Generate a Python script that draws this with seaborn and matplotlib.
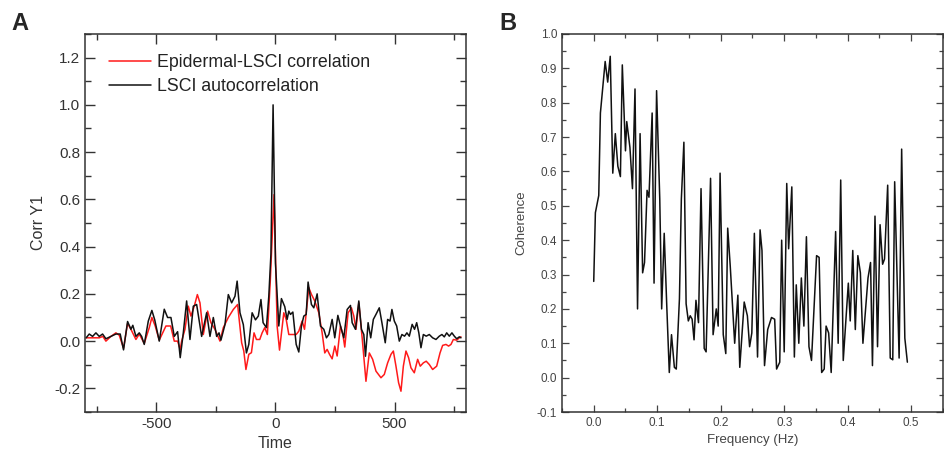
import numpy as np
import pandas as pd
import matplotlib
matplotlib.use('Agg')
import matplotlib.pyplot as plt
from matplotlib.ticker import MultipleLocator
import seaborn as sns

# Panel A: cross-correlation (red) and autocorrelation (black)
time_red = [-795, -780, -760, -740, -725, -712, -691, -670, -656, -638, -621, -607, -586, -572,
            -551, -530, -519, -505, -488, -460, -440, -425, -411, -400, -394, -380, -366, -355,
            -341, -328, -317, -303, -285, -271, -254, -233, -219, -198, -177, -159, -142, -133,
            -124, -112, -101, -90, -80, -66, -56, -45, -34, -22, -6, 7, 17, 35, 45, 56, 73, 87,
            98, 112, 122, 140, 151, 165, 182, 196, 207, 217, 227, 238, 249, 259, 273, 283, 291,
            305, 319, 329, 338, 350, 364, 380, 394, 408, 422, 443, 457, 471, 485, 495, 506, 517,
            527, 537, 548, 559, 569, 583, 597, 608, 621, 633, 646, 660, 677, 691, 702, 716, 727,
            737, 747, 761, 772, 779]
corr_red = [0.014, 0.014, 0.014, 0.014, 0.02, 0.0, 0.02, 0.035, 0.025, -0.03, 0.075, 0.05, 0.007,
            0.03, -0.01, 0.057, 0.10, 0.064, 0.004, 0.064, 0.064, 0.0, 0.0, -0.035, 0.0, 0.05,
            0.148, 0.106, 0.148, 0.197, 0.162, 0.028, 0.127, 0.078, 0.05, 0.0, 0.057, 0.10, 0.134,
            0.155, -0.007, -0.042, -0.12, -0.056, -0.049, 0.035, 0.007, 0.007, 0.035, 0.057, 0.028,
            0.25, 0.62, 0.064, -0.038, 0.12, 0.092, 0.028, 0.028, 0.028, 0.042, 0.085, 0.05, 0.226,
            0.198, 0.17, 0.12, 0.035, -0.05, -0.035, -0.056, -0.075, -0.021, -0.063, 0.064, 0.028,
            -0.025, 0.12, 0.141, 0.106, 0.05, 0.162, 0.014, -0.17, -0.05, -0.077, -0.127, -0.155,
            -0.141, -0.092, -0.056, -0.042, -0.106, -0.176, -0.212, -0.106, -0.042, -0.07, -0.113,
            -0.134, -0.077, -0.106, -0.092, -0.085, -0.099, -0.12, -0.106, -0.05, -0.018, -0.014,
            -0.021, -0.014, 0.007, 0.004, 0.014, 0.018]

time_black = [-795, -782, -768, -754, -740, -726, -712, -691, -670, -652, -638, -621, -607, -599,
              -586, -572, -562, -551, -534, -519, -507, -488, -467, -453, -439, -425, -411, -400,
              -387, -373, -359, -345, -331, -310, -289, -275, -261, -247, -237, -229, -212, -198,
              -184, -170, -161, -149, -135, -122, -112, -98, -84, -72, -61, -52, -38, -28, -19,
              -10, 0, 14, 25, 39, 49, 56, 63, 73, 87, 98, 109, 119, 129, 137, 151, 161, 175, 189,
              203, 214, 224, 238, 249, 262, 273, 287, 301, 315, 322, 336, 350, 361, 371, 378, 389,
              400, 411, 422, 436, 447, 461, 471, 481, 489, 499, 509, 520, 531, 542, 552, 562, 574,
              584, 593, 602, 611, 621, 633, 646, 660, 674, 688, 699, 709, 719, 730, 741, 751, 761,
              772, 779]
corr_black = [0.014, 0.03, 0.02, 0.035, 0.02, 0.03, 0.01, 0.02, 0.03, 0.03, -0.037, 0.083, 0.05,
              0.067, 0.02, 0.035, 0.02, -0.014, 0.085, 0.13, 0.09, 0.0, 0.135, 0.10, 0.10, 0.02,
              0.04, -0.07, 0.035, 0.17, 0.007, 0.148, 0.155, 0.02, 0.12, 0.02, 0.10, 0.02, 0.035,
              0.004, 0.07, 0.197, 0.162, 0.19, 0.254, 0.12, 0.07, -0.05, -0.014, 0.12, 0.09, 0.106,
              0.176, 0.078, 0.057, 0.19, 0.37, 1.0, 0.33, 0.064, 0.18, 0.146, 0.092, 0.127, 0.113,
              0.123, -0.014, -0.046, 0.064, 0.106, 0.113, 0.25, 0.155, 0.141, 0.20, 0.064, 0.05,
              0.014, 0.028, 0.092, 0.014, 0.109, 0.064, 0.014, 0.134, 0.151, 0.078, 0.05, 0.17,
              0.05, 0.028, -0.064, 0.078, 0.014, 0.092, 0.113, 0.141, 0.078, -0.007, 0.092, 0.085,
              0.134, 0.085, 0.064, 0.0, 0.028, 0.021, 0.035, 0.021, 0.071, 0.05, 0.078, 0.035,
              -0.028, 0.028, 0.021, 0.028, 0.014, 0.007, 0.021, 0.028, 0.018, 0.035, 0.021, 0.035,
              0.021, 0.01, 0.018, 0.014]

# Panel B: coherence spectrum
freq = [0.0, 0.0026, 0.0079, 0.0105, 0.018, 0.022, 0.026, 0.030, 0.034, 0.038, 0.042, 0.045,
        0.050, 0.052, 0.057, 0.061, 0.065, 0.069, 0.073, 0.077, 0.080, 0.084, 0.087, 0.092,
        0.095, 0.099, 0.104, 0.107, 0.111, 0.115, 0.119, 0.1225, 0.127, 0.130, 0.135, 0.138,
        0.142, 0.1455, 0.149, 0.152, 0.155, 0.158, 0.161, 0.165, 0.169, 0.174, 0.177, 0.184,
        0.188, 0.193, 0.196, 0.199, 0.204, 0.208, 0.211, 0.215, 0.222, 0.227, 0.230, 0.237,
        0.242, 0.2455, 0.249, 0.253, 0.258, 0.262, 0.265, 0.269, 0.274, 0.280, 0.285, 0.288,
        0.293, 0.296, 0.300, 0.304, 0.307, 0.312, 0.316, 0.319, 0.323, 0.327, 0.331, 0.335,
        0.339, 0.343, 0.351, 0.355, 0.359, 0.363, 0.366, 0.370, 0.374, 0.381, 0.385, 0.389,
        0.393, 0.401, 0.404, 0.408, 0.412, 0.416, 0.420, 0.424, 0.432, 0.436, 0.439, 0.443,
        0.447, 0.451, 0.455, 0.458, 0.463, 0.467, 0.471, 0.474, 0.481, 0.485, 0.490, 0.494]
coherence = [0.28, 0.48, 0.53, 0.77, 0.92, 0.86, 0.935, 0.595, 0.71, 0.615, 0.585, 0.91, 0.66,
             0.745, 0.67, 0.55, 0.84, 0.20, 0.71, 0.305, 0.335, 0.545, 0.525, 0.77, 0.275, 0.835,
             0.52, 0.20, 0.42, 0.21, 0.015, 0.125, 0.03, 0.025, 0.23, 0.52, 0.685, 0.215, 0.165,
             0.18, 0.17, 0.11, 0.225, 0.16, 0.55, 0.085, 0.075, 0.58, 0.125, 0.20, 0.15, 0.595,
             0.125, 0.07, 0.435, 0.325, 0.10, 0.24, 0.03, 0.22, 0.18, 0.09, 0.13, 0.42, 0.06,
             0.43, 0.37, 0.035, 0.14, 0.175, 0.17, 0.025, 0.045, 0.40, 0.075, 0.565, 0.375, 0.555,
             0.06, 0.27, 0.10, 0.29, 0.15, 0.41, 0.09, 0.05, 0.355, 0.35, 0.015, 0.025, 0.15, 0.13,
             0.015, 0.425, 0.10, 0.575, 0.05, 0.275, 0.165, 0.37, 0.14, 0.355, 0.305, 0.10, 0.29,
             0.335, 0.035, 0.47, 0.09, 0.445, 0.33, 0.345, 0.56, 0.057, 0.052, 0.57, 0.057, 0.665,
             0.115, 0.045]

sns.set_style('ticks')
plt.rcParams['font.family'] = ['Liberation Sans', 'DejaVu Sans']
plt.rcParams['axes.unicode_minus'] = False

fig = plt.figure(figsize=(9.45, 4.53), dpi=100)
ax1 = fig.add_axes([0.0899, 0.0905, 0.4032, 0.8345])
ax2 = fig.add_axes([0.5947, 0.0905, 0.4031, 0.8345])

sns.lineplot(x=time_red, y=corr_red, ax=ax1, color='#ff1a1a', linewidth=1.1,
             estimator=None, sort=False, label='Epidermal-LSCI correlation')
sns.lineplot(x=time_black, y=corr_black, ax=ax1, color='#111111', linewidth=1.1,
             estimator=None, sort=False, label='LSCI autocorrelation')
ax1.set_xlim(-800, 800)
ax1.set_ylim(-0.3, 1.3)
ax1.xaxis.set_major_locator(MultipleLocator(500))
ax1.xaxis.set_minor_locator(MultipleLocator(250))
ax1.yaxis.set_major_locator(MultipleLocator(0.2))
ax1.yaxis.set_minor_locator(MultipleLocator(0.1))
ax1.yaxis.set_major_formatter(lambda v, p: f'{v:.1f}')
ax1.set_xlabel('Time', fontsize=11.5, color='#333333', labelpad=4)
ax1.set_ylabel('Corr Y1', fontsize=11.5, color='#333333', labelpad=6)
ax1.tick_params(which='both', direction='in', top=True, right=True, colors='#333333',
                labelsize=11, width=1.0)
ax1.tick_params(which='major', length=7)
ax1.tick_params(which='minor', length=4)
ax1.legend(loc='upper left', frameon=False, fontsize=12.8, handlelength=2.4,
           handletextpad=0.3, labelspacing=0.4, bbox_to_anchor=(0.03, 0.98),
           borderaxespad=0.3, labelcolor='#222222')

sns.lineplot(x=freq, y=coherence, ax=ax2, color='#111111', linewidth=1.1,
             estimator=None, sort=False)
ax2.set_xlim(-0.05, 0.55)
ax2.set_ylim(-0.1, 1.0)
ax2.xaxis.set_major_locator(MultipleLocator(0.1))
ax2.xaxis.set_minor_locator(MultipleLocator(0.05))
ax2.yaxis.set_major_locator(MultipleLocator(0.1))
ax2.yaxis.set_minor_locator(MultipleLocator(0.05))
ax2.xaxis.set_major_formatter(lambda v, p: f'{v:.1f}')
ax2.yaxis.set_major_formatter(lambda v, p: f'{v:.1f}')
ax2.set_xlabel('Frequency (Hz)', fontsize=9.5, color='#444444', labelpad=4)
ax2.set_ylabel('Coherence', fontsize=9.5, color='#444444', labelpad=7)
ax2.tick_params(which='both', direction='in', top=True, right=True, colors='#444444',
                labelsize=8.5, width=0.9)
ax2.tick_params(which='major', length=5)
ax2.tick_params(which='minor', length=3)

for ax in (ax1, ax2):
    for s in ax.spines.values():
        s.set_color('#333333')
        s.set_linewidth(1.1)
        s.set_visible(True)

fig.text(0.021, 0.948, 'A', fontsize=17, fontweight='bold', ha='center', va='center')
fig.text(0.538, 0.948, 'B', fontsize=17, fontweight='bold', ha='center', va='center')

fig.savefig('out.png', dpi=100)
